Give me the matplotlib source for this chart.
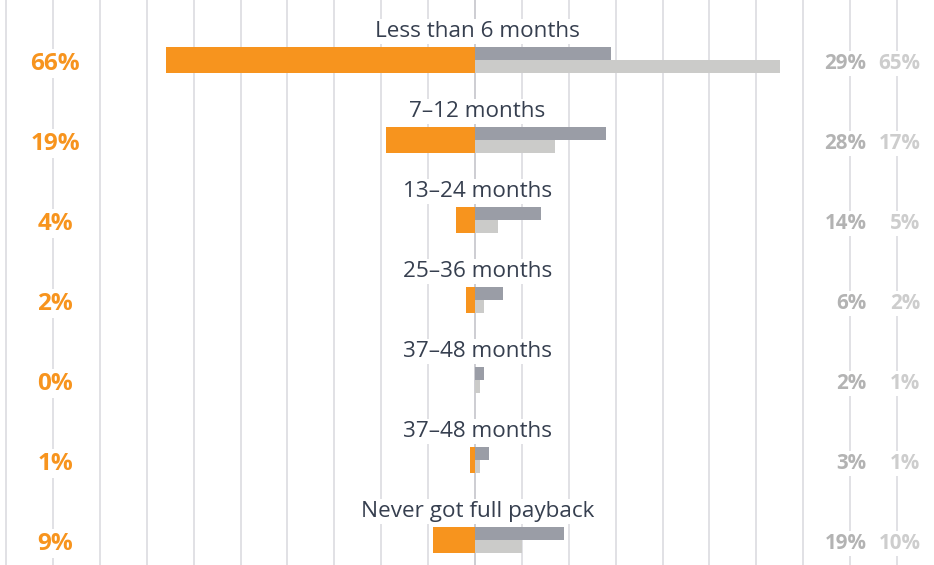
import matplotlib.pyplot as plt
import numpy as np

categories = ['Less than 6 months', '7\u201312 months', '13\u201324 months',
              '25\u201336 months', '37\u201348 months', '37\u201348 months',
              'Never got full payback']
orange_vals = [66, 19, 4, 2, 0, 1, 9]
dark_vals = [29, 28, 14, 6, 2, 3, 19]
light_vals = [65, 17, 5, 2, 1, 1, 10]

ORANGE = '#F7941E'
DARK = '#9A9DA6'
LIGHT = '#CBCBC9'
NAVY = '#363F4F'

plt.rcParams['font.family'] = ['Open Sans', 'DejaVu Sans']

fig = plt.figure(figsize=(9.34, 5.65), dpi=100)
ax = fig.add_axes([0, 0, 1, 1])
ax.set_xlim(-101.3, 97.9)
ax.set_ylim(6.3125, -0.75)
ax.axis('off')

# vertical gridlines every 10%
for g in range(-100, 100, 10):
    ax.axvline(g, color='#C9C9CF' if g == 0 else '#DEDEE3', lw=1.3, zorder=0)

y = np.arange(len(categories))
ax.barh(y, [-v for v in orange_vals], height=0.33, color=ORANGE, zorder=2)
ax.barh(y - 0.0825, dark_vals, height=0.165, color=DARK, zorder=2)
ax.barh(y + 0.0825, light_vals, height=0.165, color=LIGHT, zorder=2)

box = dict(facecolor='white', edgecolor='none', pad=1.5)
for i, cat in enumerate(categories):
    ax.text(0.5, i - 0.355, cat, ha='center', va='center', fontsize=16.2,
            color=NAVY, bbox=box, zorder=3)
    ax.text(-89.5, i + 0.045, f'{orange_vals[i]}%', ha='center', va='center',
            fontsize=17.5, fontweight='bold', color=ORANGE, bbox=box, zorder=3)
    ax.text(83.5, i + 0.045, f'{dark_vals[i]}%', ha='right', va='center',
            fontsize=14.8, fontweight='bold', color='#B3B3B3', bbox=box, zorder=3)
    ax.text(95.0, i + 0.045, f'{light_vals[i]}%', ha='right', va='center',
            fontsize=14.8, fontweight='bold', color='#CDCDCD', bbox=box, zorder=3)

fig.savefig('out.png', dpi=100)
